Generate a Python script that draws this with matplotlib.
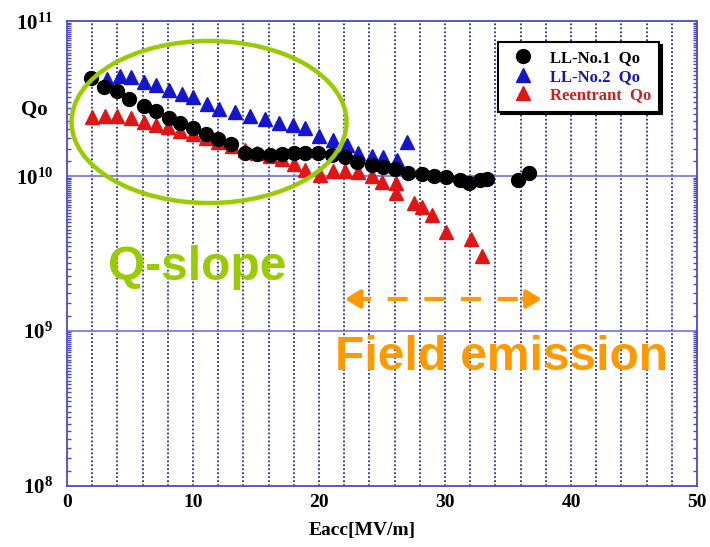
import numpy as np
import matplotlib
matplotlib.use('Agg')
import matplotlib.pyplot as plt
from matplotlib.patches import Ellipse
from matplotlib.ticker import FixedLocator, NullFormatter

plt.rcParams['mathtext.fontset'] = 'custom'
plt.rcParams['mathtext.rm'] = 'Liberation Serif'
plt.rcParams['mathtext.bf'] = 'Liberation Serif:bold'

# LL-No.1 Qo (black circles)
e_ll1 = [1.9, 2.9, 4.0, 4.9, 6.1, 7.1, 8.1, 9.0, 10.0, 11.0, 12.0, 13.0, 14.1, 15.1,
         16.1, 17.1, 18.0, 18.9, 19.9, 21.0, 22.1, 23.0, 24.2, 25.1, 26.0, 27.1,
         28.2, 29.1, 30.1, 31.2, 31.9, 32.8, 33.3, 35.8, 36.7]
q_ll1 = [4.28e10, 3.77e10, 3.52e10, 3.12e10, 2.83e10, 2.64e10, 2.37e10, 2.20e10,
         2.05e10, 1.87e10, 1.73e10, 1.60e10, 1.41e10, 1.39e10, 1.36e10, 1.38e10,
         1.41e10, 1.41e10, 1.40e10, 1.36e10, 1.32e10, 1.23e10, 1.18e10, 1.14e10,
         1.10e10, 1.045e10, 1.03e10, 1.0e10, 9.8e9, 9.4e9, 9.0e9, 9.4e9, 9.6e9,
         9.4e9, 1.045e10]

# LL-No.2 Qo (blue triangles)
e_ll2 = [3.2, 4.2, 5.1, 6.1, 7.1, 8.1, 9.1, 10.0, 11.1, 12.1, 13.3, 14.5, 15.7, 16.8,
         17.9, 18.9, 20.0, 21.1, 22.2, 23.1, 24.2, 25.1, 26.2, 27.0]
q_ll2 = [4.20e10, 4.41e10, 4.33e10, 4.04e10, 3.88e10, 3.59e10, 3.38e10, 3.21e10,
         2.92e10, 2.72e10, 2.59e10, 2.44e10, 2.32e10, 2.21e10, 2.13e10, 2.03e10,
         1.82e10, 1.70e10, 1.58e10, 1.40e10, 1.34e10, 1.32e10, 1.26e10, 1.65e10]

# Reentrant Qo (red triangles)
e_re = [2.0, 3.0, 4.0, 5.1, 6.1, 7.1, 8.0, 9.0, 10.0, 11.0, 12.0, 13.1, 14.1, 15.1,
        16.1, 17.1, 18.0, 18.9, 20.1, 21.1, 22.1, 23.1, 24.2, 25.0, 26.1, 26.1,
        27.5, 28.2, 29.0, 30.1, 32.1, 32.9]
q_re = [2.39e10, 2.44e10, 2.42e10, 2.35e10, 2.24e10, 2.13e10, 2.06e10, 1.95e10,
        1.85e10, 1.76e10, 1.66e10, 1.57e10, 1.46e10, 1.41e10, 1.34e10, 1.29e10,
        1.20e10, 1.09e10, 1.01e10, 1.08e10, 1.08e10, 1.06e10, 9.96e9, 9.15e9,
        8.93e9, 7.71e9, 6.71e9, 6.33e9, 5.60e9, 4.37e9, 3.91e9, 3.02e9]

x_ticks = [0, 10, 20, 30, 40, 50]
y_ticks = [1e8, 1e9, 1e10, 1e11]
y_labels = [r'$\mathbf{10^{8}}$', r'$\mathbf{10^{9}}$', r'$\mathbf{10^{10}}$', r'$\mathbf{10^{11}}$']

axis_blue = '#4a4ac8'
orange = '#ff9900'
fig = plt.figure(figsize=(7.1, 5.47), dpi=100)
ax = fig.add_axes([0.0944, 0.1124, 0.8873, 0.8492])

ax.set_yscale('log')
ax.set_xlim(0, 50)
ax.set_ylim(1e8, 1e11)

# grid: dotted verticals every 2, solid horizontals at decades
for xv in np.arange(2, 50, 2):
    ax.axvline(xv, color='#2a2a9a', lw=1.3, ls=(0, (1, 1.2)), zorder=1)
for yv in [1e9, 1e10]:
    ax.axhline(yv, color='#7070e0', lw=1.2, zorder=1)

ax.plot(e_ll1, q_ll1, 'o', color='black', ms=10, zorder=4, label='LL-No.1  Qo')
ax.plot(e_ll2, q_ll2, '^', color='#1515cc', ms=10, zorder=3, label='LL-No.2  Qo')
ax.plot(e_re, q_re, '^', color='#e01515', ms=10, zorder=3, label='Reentrant  Qo')

for s in ax.spines.values():
    s.set_color(axis_blue)
    s.set_linewidth(1.3)

ax.set_xticks(x_ticks)
ax.set_xticklabels([str(v) for v in x_ticks], fontfamily='Liberation Serif',
                   fontweight='bold', fontsize=14)
ax.set_yticks(y_ticks)
ax.set_yticklabels(y_labels, fontsize=15)
minor = [m * 10.0 ** d for d in range(8, 11) for m in np.arange(1.25, 10, 0.25)]
ax.yaxis.set_minor_locator(FixedLocator(minor))
ax.yaxis.set_minor_formatter(NullFormatter())
ax.tick_params(axis='y', which='both', direction='in', left=True, right=True,
               color=axis_blue, pad=10)
ax.tick_params(axis='y', which='major', length=0)
ax.tick_params(axis='y', which='minor', length=3, width=1)
ax.tick_params(axis='x', which='both', length=0, pad=6)

fig.text(362 / 710, 1 - 530 / 547, 'Eacc[MV/m]', ha='center', va='center',
         fontfamily='Liberation Serif', fontweight='bold', fontsize=14)
fig.text(34 / 710, 1 - 110 / 547, 'Qo', ha='center', va='center',
         fontfamily='Liberation Serif', fontweight='bold', fontsize=15)

leg = ax.legend(loc='upper left', bbox_to_anchor=(0.684, 0.955), borderaxespad=0,
                prop={'family': 'Liberation Serif', 'weight': 'bold', 'size': 12},
                handletextpad=0.6, labelspacing=0.15, borderpad=0.5,
                fancybox=False, framealpha=1, edgecolor='black',
                shadow={'color': 'black', 'alpha': 1})
leg.get_frame().set_linewidth(1.5)
for txt, c in zip(leg.get_texts(), ['black', '#1515b0', '#cc2020']):
    txt.set_color(c)
leg.set_zorder(6)

# annotations
ax.add_patch(Ellipse((0.2254, 0.7826), 0.4365, 0.3488, transform=ax.transAxes,
                     fill=False, ec='#99cc00', lw=3.2, zorder=5, clip_on=False))
ax.text(0.207, 0.4424, 'Q-slope', transform=ax.transAxes, ha='center', va='baseline',
        fontfamily='Liberation Sans', fontweight='bold', fontsize=34.5,
        color='#99cc00', zorder=5)
ax.text(0.689, 0.2487, 'Field emission', transform=ax.transAxes, ha='center',
        va='baseline', fontfamily='Liberation Sans', fontweight='bold',
        fontsize=34.5, color=orange, zorder=5)

# dashed double arrow: dashed shaft plus two solid heads
arr_y = 0.4015
left_tip, right_tip = 0.441, 0.7535
ax.plot([left_tip + 0.01, right_tip - 0.01], [arr_y, arr_y], transform=ax.transAxes,
        color=orange, lw=3, ls=(0, (4.8, 4)), solid_capstyle='butt', zorder=5)
for tip, base in [(left_tip, left_tip + 0.03), (right_tip, right_tip - 0.03)]:
    ax.annotate('', xy=(tip, arr_y), xytext=(base, arr_y),
                xycoords='axes fraction', textcoords='axes fraction',
                arrowprops=dict(arrowstyle='-|>,head_length=0.9,head_width=0.55',
                                lw=3, color=orange, shrinkA=0, shrinkB=0), zorder=5)

fig.savefig('out.png', dpi=100)
